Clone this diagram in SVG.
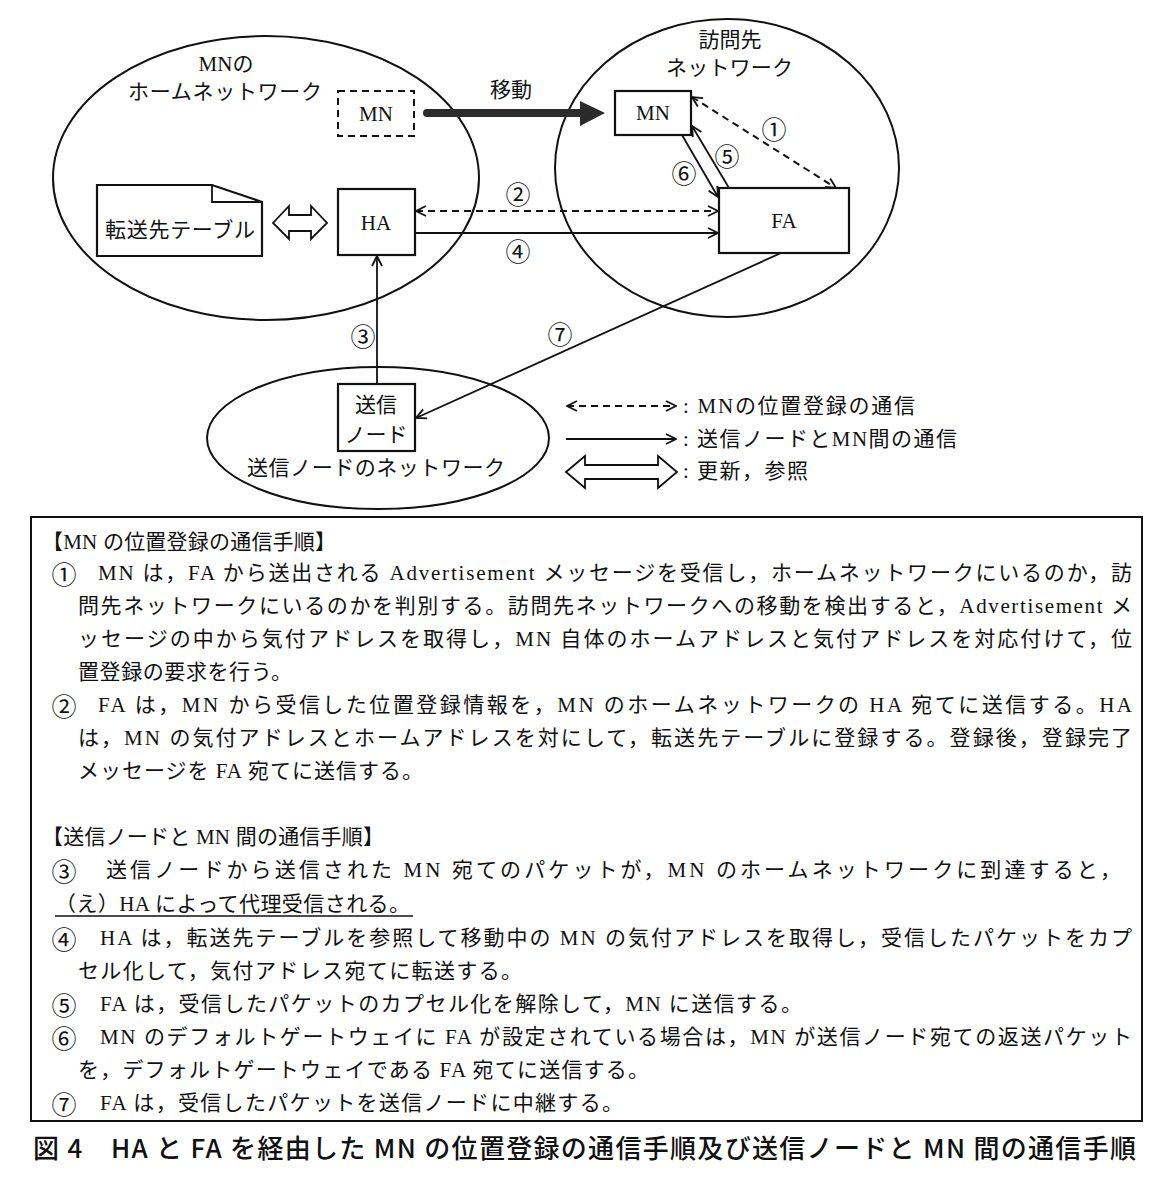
<svg xmlns="http://www.w3.org/2000/svg" width="1162" height="1184" viewBox="0 0 1162 1184">
<style>
.t{font-family:"Liberation Serif","Noto Sans CJK JP",serif;font-size:21px;fill:#111;dominant-baseline:central}
.c{text-anchor:middle}
.num{font-family:"Noto Sans CJK JP","Liberation Serif",serif;font-size:25px;fill:#111;dominant-baseline:central;text-anchor:middle}
.sh{fill:none;stroke:#111;stroke-width:2}
.box{fill:#fff;stroke:#111;stroke-width:2.2}
.ln{fill:none;stroke:#111;stroke-width:1.8}
.dl{fill:none;stroke:#111;stroke-width:2;stroke-dasharray:7 5}
.cap{font-family:"Noto Sans CJK JP","Liberation Sans",sans-serif;font-size:26px;font-weight:500;fill:#111;dominant-baseline:central}
</style>
<defs>
<marker id="ah" viewBox="0 0 12 12" refX="11" refY="6" markerWidth="12" markerHeight="12" markerUnits="userSpaceOnUse" orient="auto-start-reverse">
<path d="M1,1 L11,6 L1,11" fill="none" stroke="#111" stroke-width="1.8"/>
</marker>
</defs>
<rect width="1162" height="1184" fill="#fff"/>

<g id="home-network">
<ellipse class="sh" cx="266" cy="178" rx="213" ry="142"/>
<text class="t c" x="226" y="64">MNの</text>
<text class="t" x="128" y="92" textLength="194">ホームネットワーク</text>
</g>
<g id="visited-network">
<ellipse class="sh" cx="727" cy="168" rx="172" ry="149"/>
<text class="t c" x="730" y="40" textLength="63">訪問先</text>
<text class="t" x="666" y="68" textLength="127">ネットワーク</text>
</g>
<g id="sender-network">
<ellipse class="sh" cx="378" cy="438" rx="171" ry="71"/>
<text class="t" x="247" y="468" textLength="258">送信ノードのネットワーク</text>
</g>

<g id="connectors">
<line x1="427" y1="113" x2="584" y2="113" stroke="#2b2b2b" stroke-width="8" stroke-linecap="round"/>
<polygon points="580,101 605,113 580,126" fill="#2b2b2b"/>
<line class="dl" x1="416" y1="211" x2="718" y2="211" marker-start="url(#ah)" marker-end="url(#ah)"/>
<line class="ln" x1="415" y1="233" x2="718" y2="233" marker-end="url(#ah)"/>
<line class="dl" x1="692" y1="97" x2="836" y2="188" marker-start="url(#ah)" marker-end="url(#ah)"/>
<line class="ln" x1="729" y1="188" x2="692" y2="126" marker-end="url(#ah)"/>
<line class="ln" x1="682" y1="135" x2="718" y2="197" marker-end="url(#ah)"/>
<line class="ln" x1="781" y1="253" x2="416" y2="418" marker-end="url(#ah)"/>
<line class="ln" x1="377" y1="384" x2="377" y2="256" marker-end="url(#ah)"/>
<polygon class="ln" stroke-width="2" points="273,223 289,206 289,215 311,215 311,206 327,223 311,239 311,231 289,231 289,239"/>
<text class="t c" x="511" y="90" font-size="20">移動</text>
<text class="num" x="774" y="128">①</text>
<text class="num" x="518" y="193">②</text>
<text class="num" x="518" y="250">④</text>
<text class="num" x="727" y="155">⑤</text>
<text class="num" x="684" y="172">⑥</text>
<text class="num" x="363" y="335">③</text>
<text class="num" x="560" y="333">⑦</text>
</g>

<g id="mn-home">
<rect x="338" y="91" width="76" height="45" fill="#fff" stroke="#111" stroke-width="2" stroke-dasharray="7 5"/>
<text class="t c" x="376" y="114">MN</text>
</g>
<g id="mn-visited">
<rect class="box" x="615" y="91" width="76" height="44"/>
<text class="t c" x="653" y="113">MN</text>
</g>
<g id="ha">
<rect class="box" x="338" y="189" width="77" height="66"/>
<text class="t c" x="376" y="223">HA</text>
</g>
<g id="fa">
<rect class="box" x="719" y="188" width="130" height="65"/>
<text class="t c" x="784" y="221">FA</text>
</g>
<g id="table">
<path class="box" d="M97,185 L212,185 L262,202 L262,256 L97,256 Z"/>
<path class="ln" stroke-width="2" d="M212,185 L212,202 L262,202"/>
<text class="t" x="105" y="230" textLength="150">転送先テーブル</text>
</g>
<g id="sender-node">
<rect class="box" x="338" y="384" width="77" height="67"/>
<text class="t c" x="376" y="405">送信</text>
<text class="t c" x="376" y="435">ノード</text>
</g>

<g id="legend">
<line class="dl" x1="567" y1="406" x2="676" y2="406" marker-start="url(#ah)" marker-end="url(#ah)"/>
<text class="t" x="683" y="406" textLength="232">: MNの位置登録の通信</text>
<line class="ln" x1="566" y1="439" x2="676" y2="439" marker-end="url(#ah)"/>
<text class="t" x="683" y="439" textLength="274">: 送信ノードとMN間の通信</text>
<polygon class="ln" stroke-width="2" points="566,472 585,456 585,465 658,465 658,456 677,472 658,488 658,479 585,479 585,488"/>
<text class="t" x="683" y="471" textLength="125">: 更新，参照</text>
</g>

<g id="procedure-box">
<rect x="31" y="517" width="1111" height="604" fill="none" stroke="#111" stroke-width="2"/>
<text class="t" x="42" y="542" textLength="294">【MN の位置登録の通信手順】</text>
<text class="num" x="64" y="573">①</text>
<text class="t" x="98" y="573" textLength="1034">MN は，FA から送出される Advertisement メッセージを受信し，ホームネットワークにいるのか，訪</text>
<text class="t" x="78" y="606" textLength="1054">問先ネットワークにいるのかを判別する。訪問先ネットワークへの移動を検出すると，Advertisement メ</text>
<text class="t" x="78" y="639" textLength="1054">ッセージの中から気付アドレスを取得し，MN 自体のホームアドレスと気付アドレスを対応付けて，位</text>
<text class="t" x="78" y="672" textLength="214">置登録の要求を行う。</text>
<text class="num" x="64" y="705">②</text>
<text class="t" x="98" y="705" textLength="1034">FA は，MN から受信した位置登録情報を，MN のホームネットワークの HA 宛てに送信する。HA</text>
<text class="t" x="78" y="738" textLength="1054">は，MN の気付アドレスとホームアドレスを対にして，転送先テーブルに登録する。登録後，登録完了</text>
<text class="t" x="78" y="771" textLength="345">メッセージを FA 宛てに送信する。</text>
<text class="t" x="42" y="837" textLength="342">【送信ノードと MN 間の通信手順】</text>
<text class="num" x="64" y="870">③</text>
<text class="t" x="106" y="870" textLength="1015">送信ノードから送信された MN 宛てのパケットが，MN のホームネットワークに到達すると，</text>
<text class="t" x="55" y="904" textLength="355">（え）HA によって代理受信される。</text>
<line x1="55" y1="916" x2="413" y2="916" stroke="#111" stroke-width="1.6"/>
<text class="num" x="64" y="938">④</text>
<text class="t" x="100" y="938" textLength="1032">HA は，転送先テーブルを参照して移動中の MN の気付アドレスを取得し，受信したパケットをカプ</text>
<text class="t" x="78" y="971" textLength="444">セル化して，気付アドレス宛てに転送する。</text>
<text class="num" x="64" y="1004">⑤</text>
<text class="t" x="100" y="1004" textLength="702">FA は，受信したパケットのカプセル化を解除して，MN に送信する。</text>
<text class="num" x="64" y="1037">⑥</text>
<text class="t" x="100" y="1037" textLength="1032">MN のデフォルトゲートウェイに FA が設定されている場合は，MN が送信ノード宛ての返送パケット</text>
<text class="t" x="78" y="1070" textLength="571">を，デフォルトゲートウェイである FA 宛てに送信する。</text>
<text class="num" x="64" y="1103">⑦</text>
<text class="t" x="100" y="1103" textLength="523">FA は，受信したパケットを送信ノードに中継する。</text>
</g>

<g id="caption">
<text class="cap" x="33" y="1146" textLength="1103">図 4　HA と FA を経由した MN の位置登録の通信手順及び送信ノードと MN 間の通信手順</text>
</g>
</svg>
